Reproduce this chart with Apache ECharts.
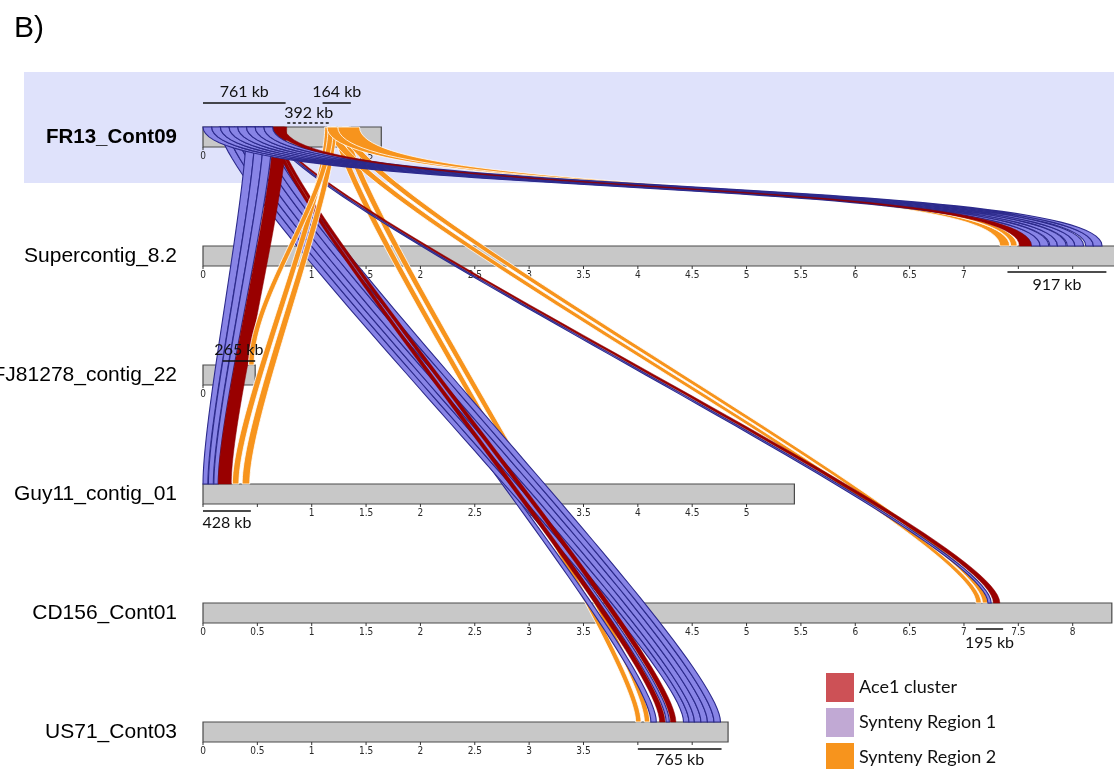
<!DOCTYPE html>
<html><head><meta charset="utf-8">
<script src="https://cdn.jsdelivr.net/npm/echarts@6/dist/echarts.min.js"></script>
<style>html,body{margin:0;padding:0;background:#fff}#c{width:1114px;height:769px}</style>
</head><body><div id="c"></div>
<script>
// ---------- DATA ----------
const trackNames = ['FR13_Cont09','Supercontig_8.2','FJ81278_contig_22','Guy11_contig_01','CD156_Cont01','US71_Cont03'];
const trackLengths = [1.64, 8.6, 0.48, 5.44, 8.36, 4.83]; // Mb
const tickStep = 0.5;
const tickLabels = [
  ['0','0.5','1','1.5'],
  ['0','0.5','1','1.5','2','2.5','3','3.5','4','4.5','5','5.5','6','6.5','7','',''],
  ['0'],
  ['','','1','1.5','2','2.5','3','3.5','4','4.5','5'],
  ['0','0.5','1','1.5','2','2.5','3','3.5','4','4.5','5','5.5','6','6.5','7','7.5','8'],
  ['0','0.5','1','1.5','2','2.5','3','3.5','',''],
];
// links: [FR13 start, FR13 end, target track, target start, target end] (Mb)
const synteny1Links = [
  [0.00,0.08,1,7.62,7.70],[0.08,0.16,1,7.70,7.78],[0.16,0.24,1,7.79,7.86],[0.24,0.32,1,7.86,7.94],
  [0.32,0.40,1,7.95,8.02],[0.40,0.48,1,8.02,8.10],[0.48,0.56,1,8.12,8.19],[0.56,0.64,1,8.19,8.27],
  [0.40,0.48,3,0.00,0.045],[0.48,0.56,3,0.05,0.095],[0.56,0.64,3,0.10,0.14],
  [0.60,0.62,4,7.22,7.25],
  [0.58,0.61,5,4.12,4.17],[0.60,0.62,5,4.26,4.29],
  [0.15,0.22,5,4.42,4.47],[0.22,0.29,5,4.47,4.52],[0.29,0.36,5,4.52,4.58],
  [0.36,0.44,5,4.58,4.64],[0.44,0.51,5,4.64,4.70],[0.51,0.58,5,4.70,4.76]
];
const synteny2Links = [
  [1.14,1.36,1,7.33,7.42],[1.24,1.44,1,7.43,7.49],
  [1.15,1.20,2,0.42,0.47],
  [1.12,1.17,3,0.27,0.33],[1.18,1.23,3,0.36,0.43],
  [1.14,1.22,4,7.11,7.16],[1.26,1.34,4,7.17,7.22],
  [1.20,1.26,5,3.98,4.03],[1.28,1.34,5,4.06,4.11]
];
const ace1Links = [
  [0.68,0.75,1,7.51,7.62],
  [0.65,0.77,3,0.14,0.26],
  [0.63,0.65,4,7.27,7.33],
  [0.62,0.65,5,4.20,4.25],[0.65,0.68,5,4.30,4.35]
];
// scale bars: [track, start Mb, end Mb]
const scaleBars = [[0,0,0.76],[0,1.10,1.36],[0,0.775,1.17],[1,7.40,8.31],[2,0.18,0.48],[3,0,0.44],[4,7.11,7.36],[5,4.0,4.77]];
const scaleBarLabels = ['761 kb','164 kb','392 kb','917 kb','265 kb','428 kb','195 kb','765 kb'];
const legendNames = ['Ace1 cluster','Synteny Region 1','Synteny Region 2'];
const targetDrawOrder = [5,4,3,2,1];

// ---------- STYLE ----------
const scaleBarStyle = [
  {line:-34,text:-45,dash:false},{line:-34,text:-45,dash:false},{line:-14,text:-24,dash:true},
  {line:16,text:29,dash:false},{line:-14,text:-25,dash:false},{line:17,text:29,dash:false},
  {line:16,text:30,dash:false},{line:17,text:28,dash:false}
];
const BAR_H = 0.168;   // in track units
const CURVE_K = 0.59;  // bezier control offset in track units
const tickFont = '10px "Liberation Sans Narrow","DejaVu Sans Condensed",sans-serif';
const classes = [
  {name:'Synteny Region 2', links:synteny2Links, legend:'#f7941d', fill:'#f7941d', stroke:'#ffffff', lw:0.8},
  {name:'Synteny Region 1', links:synteny1Links, legend:'#c1a9d4', fill:'#8884e6', stroke:'#2c2a8c', lw:1.1},
  {name:'Ace1 cluster', links:ace1Links, legend:'#cd5156', fill:'#990000', stroke:'#8a0000', lw:0.5}
];

function bez(x0,y0,x1,y1,K,n){
  const pts=[];
  for(let i=0;i<=n;i++){
    const t=i/n,u=1-t;
    const x=u*u*u*x0+3*u*u*t*x0+3*u*t*t*x1+t*t*t*x1;
    const y=u*u*u*y0+3*u*u*t*(y0+K)+3*u*t*t*(y1-K)+t*t*t*y1;
    pts.push([x,y]);
  }
  return pts;
}
function ribbonRender(fill, stroke, lw){
  return function(params, api){
    const s0=api.value(0), s1=api.value(1), tr=api.value(2), t0=api.value(3), t1=api.value(4);
    const half=api.size([0,BAR_H])[1]/2;
    const K=api.size([0,CURVE_K])[1];
    const a0=api.coord([s0,0]), a1=api.coord([s1,0]);
    const b0=api.coord([t0,tr]), b1=api.coord([t1,tr]);
    const ys=a0[1]-half, ye=b0[1]-half;
    const left=bez(a0[0],ys,b0[0],ye,K,60);
    const right=bez(a1[0],ys,b1[0],ye,K,60).reverse();
    return {type:'polygon', shape:{points:left.concat(right)}, style:{fill:fill, stroke:stroke, lineWidth:lw}};
  };
}

const ribbonSeries = [];
targetDrawOrder.forEach(tr=>{
  classes.forEach(c=>{
    const d=c.links.filter(l=>l[2]===tr);
    if(d.length) ribbonSeries.push({name:c.name, type:'custom', z:3, itemStyle:{color:c.legend},
      data:d, renderItem:ribbonRender(c.fill,c.stroke,c.lw)});
  });
});

const legendBase = {orient:'vertical', left:826, itemWidth:28, itemHeight:29, icon:'rect', selectedMode:false, padding:0,
  textStyle:{fontFamily:'Lato', fontSize:18, color:'#111'}};

const chart = echarts.init(document.getElementById('c'), null, {renderer:'canvas'});
chart.setOption({
  animation:false,
  backgroundColor:'#fff',
  title:{text:'B)', left:9, top:9, textStyle:{fontFamily:'Liberation Sans', fontSize:30, fontWeight:'normal', color:'#000'}},
  legend:[
    Object.assign({data:[legendNames[0]], top:673}, legendBase),
    Object.assign({data:[legendNames[1]], top:708}, legendBase),
    Object.assign({data:[legendNames[2]], top:743}, legendBase)
  ],
  grid:{left:203, right:0, top:137, bottom:37, containLabel:false, outerBoundsMode:'none'},
  xAxis:{type:'value', min:0, max:8.38, show:false},
  yAxis:{type:'value', min:0, max:5, interval:1, inverse:true, z:10,
    axisLine:{show:false}, axisTick:{show:false}, splitLine:{show:false},
    axisLabel:{margin:26, fontFamily:'Liberation Sans', fontSize:21, color:'#000',
      formatter:function(v){ return v===0 ? '{b|'+trackNames[v]+'}' : trackNames[v]; },
      rich:{b:{fontFamily:'Liberation Sans', fontSize:20.5, fontWeight:'bold', color:'#000'}}}
  },
  series:[
    { // highlight band for the reference contig
      type:'custom', silent:true, z:1, data:[[0]],
      renderItem:function(params, api){
        const top=api.coord([0,-0.546])[1], bot=api.coord([0,0.387])[1];
        return {type:'rect', shape:{x:24, y:top, width:api.getWidth()-24, height:bot-top}, style:{fill:'#dfe2fb'}};
      }
    },
    { // chromosome bars with ticks
      type:'custom', silent:true, z:2,
      data:trackNames.map((n,i)=>[i, trackLengths[i]]),
      renderItem:function(params, api){
        const i=api.value(0), len=api.value(1);
        const p0=api.coord([0,i]), p1=api.coord([len,i]);
        const h=api.size([0,BAR_H])[1];
        const children=[{type:'rect', shape:{x:p0[0], y:p0[1]-h/2, width:p1[0]-p0[0], height:h},
          style:{fill:'#c8c8c8', stroke:'#4a4a4a', lineWidth:1.2}}];
        tickLabels[i].forEach((lab,k)=>{
          const p=api.coord([k*tickStep,i]);
          const yb=p[1]+h/2;
          children.push({type:'line', shape:{x1:p[0],y1:yb,x2:p[0],y2:yb+3}, style:{stroke:'#333', lineWidth:1}});
          if(lab) children.push({type:'text', x:p[0], y:yb+9, style:{text:lab, font:tickFont, fill:'#2a2a2a', align:'center', verticalAlign:'middle'}});
        });
        return {type:'group', children:children};
      }
    }
  ].concat(ribbonSeries).concat([
    { // scale bars
      type:'custom', silent:true, z:6,
      data:scaleBars.map((s,k)=>[s[0],s[1],s[2],k]),
      renderItem:function(params, api){
        const tr=api.value(0), k=api.value(3), st=scaleBarStyle[k];
        const a=api.coord([api.value(1),tr]), b=api.coord([api.value(2),tr]);
        return {type:'group', children:[
          {type:'line', shape:{x1:a[0],y1:a[1]+st.line,x2:b[0],y2:a[1]+st.line},
            style:{stroke:'#111', lineWidth:1.5, lineDash:st.dash?[3,2.5]:null}},
          {type:'text', x:(a[0]+b[0])/2, y:a[1]+st.text,
            style:{text:scaleBarLabels[k], font:'16px Lato', fill:'#111', align:'center', verticalAlign:'middle'}}
        ]};
      }
    }
  ])
});
</script></body></html>
